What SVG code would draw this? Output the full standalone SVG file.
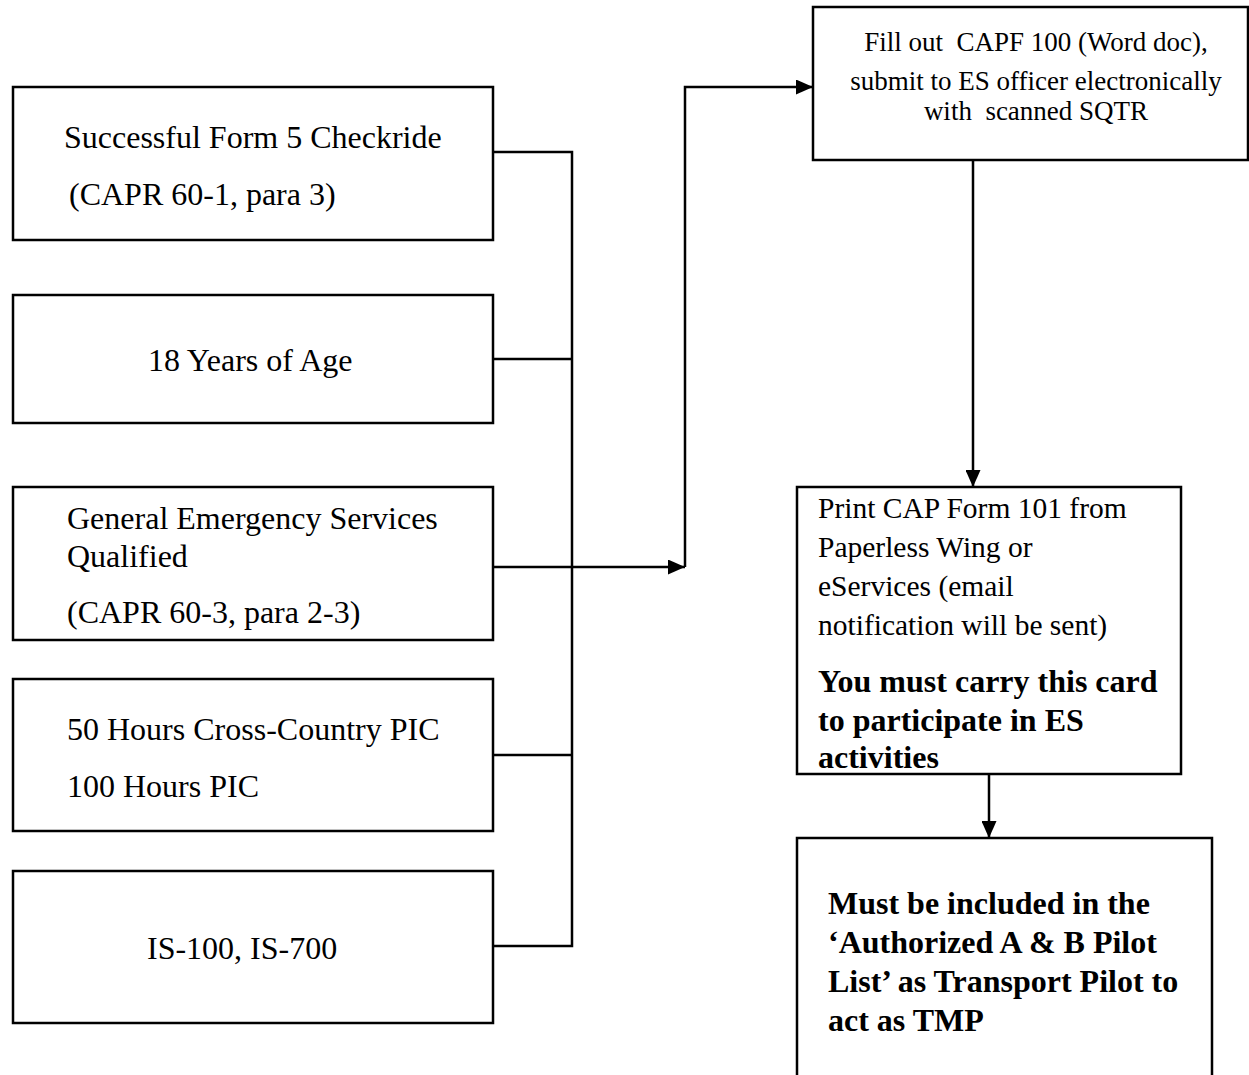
<svg xmlns="http://www.w3.org/2000/svg" width="1249" height="1075" viewBox="0 0 1249 1075">
<style>
.box{fill:#fff;stroke:#000;stroke-width:2.5}
.t{font-family:"Liberation Serif","Times New Roman",serif;font-size:32px;fill:#000;white-space:pre}
.s{font-size:27px}
.m{font-size:29.5px}
.b{font-weight:bold;font-size:32px}
.ln{fill:none;stroke:#000;stroke-width:2.5}
</style>
<defs>
<marker id="ah" markerWidth="17" markerHeight="15" refX="17" refY="7.5" orient="auto" markerUnits="userSpaceOnUse">
<path d="M0,0 L17,7.5 L0,15 Z" fill="#000"/>
</marker>
</defs>
<rect width="1249" height="1075" fill="#fff"/>
<g id="connectors">
<path class="ln" d="M493,152 H572 V946 H493"/>
<path class="ln" d="M493,359 H572"/>
<path class="ln" d="M493,755 H572"/>
<path class="ln" d="M493,567 H685" marker-end="url(#ah)"/>
<path class="ln" d="M685,567 V87 H813" marker-end="url(#ah)"/>
<path class="ln" d="M973,160 V487" marker-end="url(#ah)"/>
<path class="ln" d="M989,774 V838" marker-end="url(#ah)"/>
</g>
<g id="n1">
<rect class="box" x="13" y="87" width="480" height="153"/>
<text class="t" x="64" y="148">Successful Form 5 Checkride</text>
<text class="t" x="69" y="205">(CAPR 60-1, para 3)</text>
</g>
<g id="n2">
<rect class="box" x="13" y="295" width="480" height="128"/>
<text class="t" x="148" y="371">18 Years of Age</text>
</g>
<g id="n3">
<rect class="box" x="13" y="487" width="480" height="153"/>
<text class="t" x="67" y="529">General Emergency Services</text>
<text class="t" x="67" y="567">Qualified</text>
<text class="t" x="67" y="623">(CAPR 60-3, para 2-3)</text>
</g>
<g id="n4">
<rect class="box" x="13" y="679" width="480" height="152"/>
<text class="t" x="67" y="740">50 Hours Cross-Country PIC</text>
<text class="t" x="67" y="797">100 Hours PIC</text>
</g>
<g id="n5">
<rect class="box" x="13" y="871" width="480" height="152"/>
<text class="t" x="147" y="959">IS-100, IS-700</text>
</g>
<g id="n6">
<rect class="box" x="813" y="7" width="435" height="153"/>
<text class="t s" x="1036" y="51" text-anchor="middle">Fill out  CAPF 100 (Word doc),</text>
<text class="t s" x="1036" y="90" text-anchor="middle">submit to ES officer electronically</text>
<text class="t s" x="1036" y="120" text-anchor="middle">with  scanned SQTR</text>
</g>
<g id="n7">
<rect class="box" x="797" y="487" width="384" height="287"/>
<text class="t m" x="818" y="518">Print CAP Form 101 from</text>
<text class="t m" x="818" y="557">Paperless Wing or</text>
<text class="t m" x="818" y="596">eServices (email</text>
<text class="t m" x="818" y="635">notification will be sent)</text>
<text class="t b" x="818" y="692">You must carry this card</text>
<text class="t b" x="818" y="731">to participate in ES</text>
<text class="t b" x="818" y="768">activities</text>
</g>
<g id="n8">
<path class="box" d="M797,1076 V838 H1212 V1076"/>
<text class="t b" x="828" y="914">Must be included in the</text>
<text class="t b" x="828" y="953">‘Authorized A &amp; B Pilot</text>
<text class="t b" x="828" y="992">List’ as Transport Pilot to</text>
<text class="t b" x="828" y="1031">act as TMP</text>
</g>
</svg>
